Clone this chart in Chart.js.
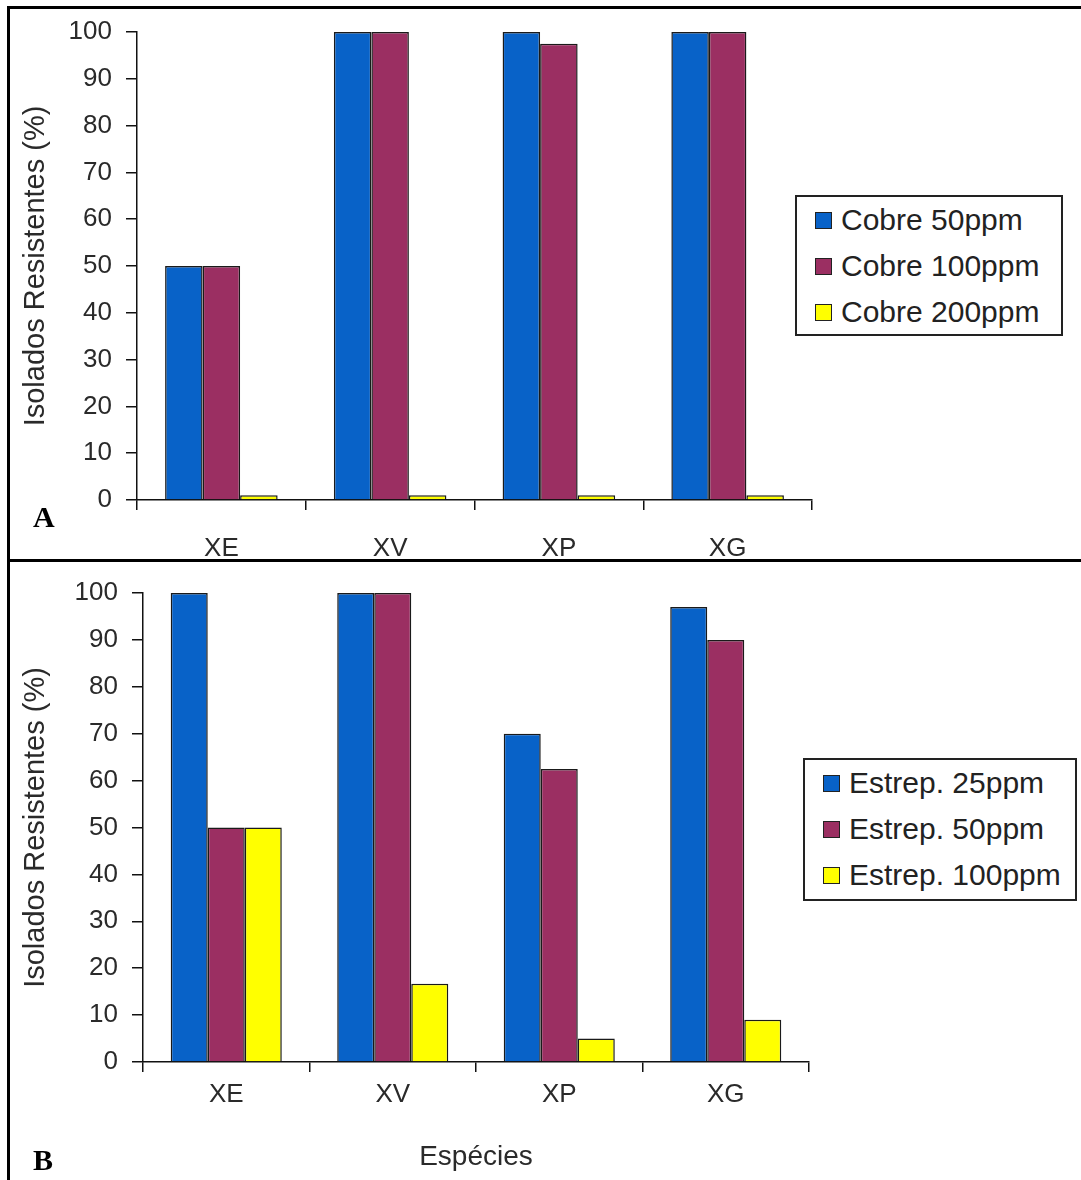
<!DOCTYPE html>
<html>
<head>
<meta charset="utf-8">
<script src="https://cdn.jsdelivr.net/npm/chart.js@4"></script>
<style>
  body { margin: 0; background: #fff; width: 1081px; height: 1180px; position: relative; overflow: hidden; font-family: "Liberation Sans", Arial, sans-serif; }
  .panel { position: absolute; left: 0; width: 1081px; }
  .line { position: absolute; background: #000; z-index: 5; }
  .tag { position: absolute; font-family: "Liberation Serif", serif; font-weight: bold; font-size: 30px; color: #000; }
  .legend { position: absolute; border: 2px solid #222; background: #fff; box-sizing: border-box; padding: 0 0 0 18px; }
  .legend .row { display: flex; align-items: center; height: 46px; font-size: 30px; color: #222; white-space: nowrap; }
  .legend .sw { width: 15px; height: 15px; border: 1.5px solid #222; margin-right: 9px; }
</style>
</head>
<body>
<div class="line" style="left:8px; top:6px; width:1073px; height:3px;"></div>
<div class="line" style="left:7px; top:6px; width:3px; height:1174px;"></div>
<div class="line" style="left:8px; top:559px; width:1073px; height:3px;"></div>

<div class="panel" style="top:0; height:560px;"><canvas id="chartA" width="1081" height="560"></canvas></div>
<div class="panel" style="top:560px; height:620px;"><canvas id="chartB" width="1081" height="620"></canvas></div>

<div class="tag" style="left:33px; top:500px;">A</div>
<div class="tag" style="left:33px; top:1143px;">B</div>

<div id="legendA" class="legend" style="left:795px; top:195px; width:268px; height:141px;"></div>
<div id="legendB" class="legend" style="left:803px; top:758px; width:274px; height:143px;"></div>

<script>
// Data
const species = ['XE', 'XV', 'XP', 'XG'];

const cobreLabels = ['Cobre 50ppm', 'Cobre 100ppm', 'Cobre 200ppm'];
const cobre50 = [50, 100, 100, 100];
const cobre100 = [50, 100, 97.5, 100];
const cobre200 = [1, 1, 1, 1];

const estrepLabels = ['Estrep. 25ppm', 'Estrep. 50ppm', 'Estrep. 100ppm'];
const estrep25 = [100, 100, 70, 97];
const estrep50 = [50, 100, 62.5, 90];
const estrep100 = [50, 16.7, 5, 9];

const yTitle = 'Isolados Resistentes (%)';
const xTitle = 'Espécies';

const colors = ['#0862c8', '#9b2f62', '#ffff00'];
const tickColor = '#2a2a2a';

function makeDatasets(labels, series) {
    return series.map((data, i) => ({
        label: labels[i],
        data: data,
        backgroundColor: colors[i],
        borderColor: '#1a1a1a',
        borderWidth: 1.5,
        borderSkipped: 'bottom'
    }));
}

function makeOptions(o) {
    return {
        responsive: false,
        animation: false,
        layout: { padding: { left: 0, top: o.top, right: o.right, bottom: 0 } },
        plugins: { legend: { display: false }, tooltip: { enabled: false } },
        datasets: { bar: { categoryPercentage: 0.667, barPercentage: 1.0 } },
        scales: {
            x: {
                grid: { offset: true, drawOnChartArea: false, tickLength: 10, color: '#111', lineWidth: 1.5 },
                border: { color: '#111', width: 1.5 },
                ticks: { color: tickColor, font: { size: 26, family: 'Liberation Sans' }, padding: o.xPad },
                title: {
                    display: o.showX, text: xTitle, color: tickColor,
                    font: { size: 28, family: 'Liberation Sans' }, padding: { top: 0, bottom: 6 }
                },
                afterFit: s => { s.height = o.xHeight; }
            },
            y: {
                min: 0, max: 100,
                grid: { drawOnChartArea: false, tickLength: 11, color: '#111', lineWidth: 1.5 },
                border: { color: '#111', width: 1.5 },
                ticks: { stepSize: 10, color: tickColor, font: { size: 26, family: 'Liberation Sans' }, padding: 14 },
                title: {
                    display: true, text: yTitle, color: tickColor,
                    font: { size: 29, family: 'Liberation Sans' }, padding: { top: o.titleLeft, bottom: 0 }
                },
                afterFit: s => { s.width = o.yWidth; }
            }
        }
    };
}

function buildLegend(id, datasets) {
    const box = document.getElementById(id);
    datasets.forEach(ds => {
        const row = document.createElement('div');
        row.className = 'row';
        const sw = document.createElement('span');
        sw.className = 'sw';
        sw.style.background = ds.backgroundColor;
        row.appendChild(sw);
        row.appendChild(document.createTextNode(ds.label));
        box.appendChild(row);
    });
}

const dsA = makeDatasets(cobreLabels, [cobre50, cobre100, cobre200]);
const dsB = makeDatasets(estrepLabels, [estrep25, estrep50, estrep100]);

new Chart(document.getElementById('chartA'), {
    type: 'bar',
    data: { labels: species, datasets: dsA },
    options: makeOptions({ top: 32, right: 269, xHeight: 60, xPad: 23, showX: false, yWidth: 137, titleLeft: 19 })
});

new Chart(document.getElementById('chartB'), {
    type: 'bar',
    data: { labels: species, datasets: dsB },
    options: makeOptions({ top: 33, right: 272, xHeight: 118, xPad: 7, showX: true, yWidth: 143, titleLeft: 19 })
});

buildLegend('legendA', dsA);
buildLegend('legendB', dsB);
</script>
</body>
</html>
